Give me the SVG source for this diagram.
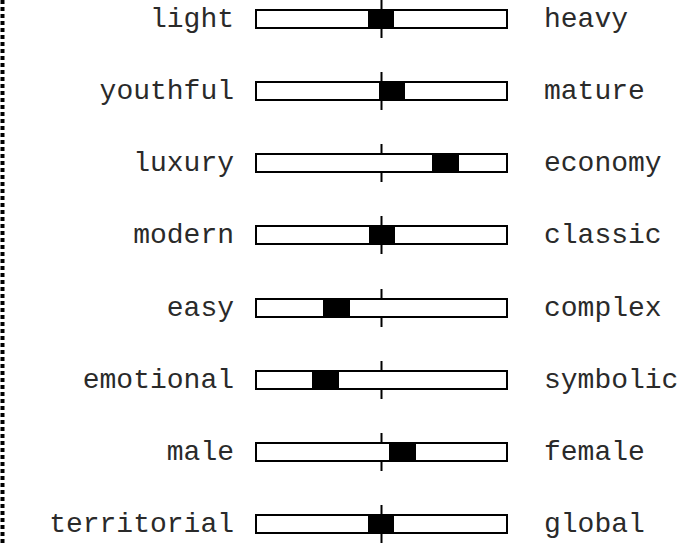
<svg xmlns="http://www.w3.org/2000/svg" width="698" height="543" viewBox="0 0 698 543">
<style>
.lbl{font-family:"Liberation Mono","Courier New",monospace;font-size:28px;fill:#2a2a2a}
.l{text-anchor:end}
.bar{fill:#fff;stroke:#000;stroke-width:2}
.mk{fill:#000}
.tick{stroke:#000;stroke-width:2}
</style>
<rect width="698" height="543" fill="#fff"/>
<line x1="2.5" y1="0" x2="2.5" y2="543" stroke="#000" stroke-width="4" stroke-dasharray="4 3"/>
<g id="connectors">
<line class="tick" x1="381.5" y1="0" x2="381.5" y2="38"/>
<line class="tick" x1="381.5" y1="72" x2="381.5" y2="110"/>
<line class="tick" x1="381.5" y1="144" x2="381.5" y2="182"/>
<line class="tick" x1="381.5" y1="216" x2="381.5" y2="254"/>
<line class="tick" x1="381.5" y1="289" x2="381.5" y2="327"/>
<line class="tick" x1="381.5" y1="361" x2="381.5" y2="399"/>
<line class="tick" x1="381.5" y1="433" x2="381.5" y2="471"/>
<line class="tick" x1="381.5" y1="505" x2="381.5" y2="543"/>
</g>
<g id="row-light">
<rect class="bar" x="256" y="10" width="251" height="18"/>
<rect class="mk" x="368" y="10" width="26" height="18"/>
<text class="lbl l" x="234" y="27">light</text>
<text class="lbl" x="544" y="27">heavy</text>
</g>
<g id="row-youthful">
<rect class="bar" x="256" y="82" width="251" height="18"/>
<rect class="mk" x="379" y="82" width="26" height="18"/>
<text class="lbl l" x="234" y="99">youthful</text>
<text class="lbl" x="544" y="99">mature</text>
</g>
<g id="row-luxury">
<rect class="bar" x="256" y="154" width="251" height="18"/>
<rect class="mk" x="432" y="154" width="27" height="18"/>
<text class="lbl l" x="234" y="171">luxury</text>
<text class="lbl" x="544" y="171">economy</text>
</g>
<g id="row-modern">
<rect class="bar" x="256" y="226" width="251" height="18"/>
<rect class="mk" x="369" y="226" width="26" height="18"/>
<text class="lbl l" x="234" y="243">modern</text>
<text class="lbl" x="544" y="243">classic</text>
</g>
<g id="row-easy">
<rect class="bar" x="256" y="299" width="251" height="18"/>
<rect class="mk" x="323" y="299" width="27" height="18"/>
<text class="lbl l" x="234" y="316">easy</text>
<text class="lbl" x="544" y="316">complex</text>
</g>
<g id="row-emotional">
<rect class="bar" x="256" y="371" width="251" height="18"/>
<rect class="mk" x="312" y="371" width="27" height="18"/>
<text class="lbl l" x="234" y="388">emotional</text>
<text class="lbl" x="544" y="388">symbolic</text>
</g>
<g id="row-male">
<rect class="bar" x="256" y="443" width="251" height="18"/>
<rect class="mk" x="389" y="443" width="27" height="18"/>
<text class="lbl l" x="234" y="460">male</text>
<text class="lbl" x="544" y="460">female</text>
</g>
<g id="row-territorial">
<rect class="bar" x="256" y="515" width="251" height="18"/>
<rect class="mk" x="368" y="515" width="26" height="18"/>
<text class="lbl l" x="234" y="532">territorial</text>
<text class="lbl" x="544" y="532">global</text>
</g>
</svg>
